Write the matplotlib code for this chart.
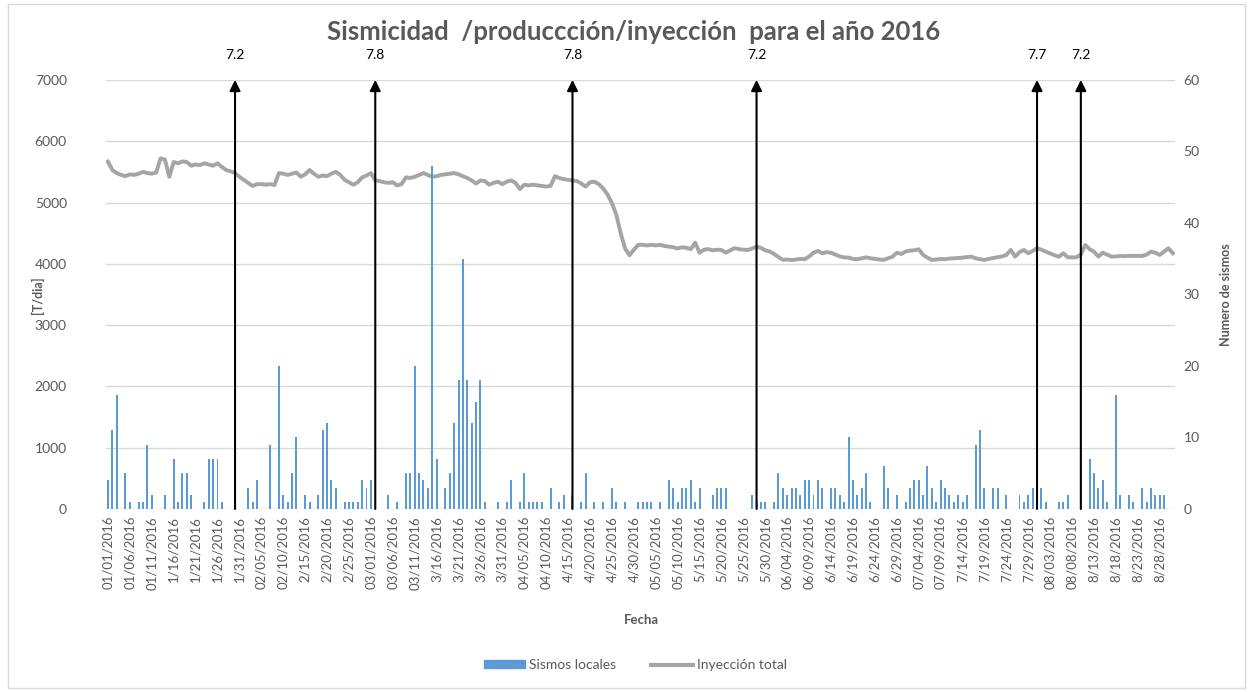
import numpy as np
import matplotlib.pyplot as plt
from matplotlib.lines import Line2D
from matplotlib.patches import Patch, Rectangle
import matplotlib.transforms as mtransforms

plt.rcParams['font.family'] = ['Lato', 'DejaVu Sans']

# daily local earthquake counts, 01/01/2016 - 08/31/2016
sismos = [
    4, 11, 16, 0, 5, 1, 0, 1, 1, 9,
    2, 0, 0, 2, 0, 7, 1, 5, 5, 2,
    0, 0, 1, 7, 7, 7, 1, 0, 0, 0,
    0, 0, 3, 1, 4, 0, 0, 9, 0, 20,
    2, 1, 5, 10, 0, 2, 1, 0, 2, 11,
    12, 4, 3, 0, 1, 1, 1, 1, 4, 3,
    4, 0, 0, 0, 2, 0, 1, 0, 5, 5,
    20, 5, 4, 3, 48, 7, 0, 3, 5, 12,
    18, 35, 18, 12, 15, 18, 1, 0, 0, 1,
    0, 1, 4, 0, 1, 5, 1, 1, 1, 1,
    0, 3, 0, 1, 2, 0, 2, 0, 1, 5,
    0, 1, 0, 1, 0, 3, 1, 0, 1, 0,
    0, 1, 1, 1, 1, 0, 1, 0, 4, 3,
    1, 3, 3, 4, 1, 3, 0, 0, 2, 3,
    3, 3, 0, 0, 0, 0, 0, 2, 1, 1,
    1, 0, 1, 5, 3, 2, 3, 3, 2, 4,
    4, 2, 4, 3, 0, 3, 3, 2, 1, 10,
    4, 2, 3, 5, 1, 0, 0, 6, 3, 0,
    2, 0, 1, 3, 4, 4, 2, 6, 3, 1,
    4, 3, 2, 1, 2, 1, 2, 0, 9, 11,
    3, 0, 3, 3, 0, 2, 0, 0, 2, 1,
    2, 3, 0, 3, 1, 0, 0, 1, 1, 2,
    0, 0, 0, 0, 7, 5, 3, 4, 1, 0,
    16, 2, 0, 2, 1, 0, 3, 1, 3, 2,
    2, 2, 0, 0,
]

# total injection [T/dia]
inyeccion = [
    5667, 5530, 5480, 5450, 5430, 5460, 5450, 5470, 5500, 5480,
    5470, 5490, 5720, 5700, 5420, 5660, 5640, 5670, 5660, 5600,
    5620, 5610, 5640, 5620, 5600, 5640, 5580, 5530, 5510, 5480,
    5420, 5370, 5320, 5270, 5300, 5300, 5290, 5300, 5285, 5480,
    5470, 5450, 5470, 5490, 5420, 5460, 5530, 5470, 5420, 5440,
    5430, 5470, 5500, 5450, 5370, 5330, 5290, 5330, 5410, 5440,
    5480, 5360, 5350, 5330, 5320, 5330, 5280, 5300, 5410, 5400,
    5420, 5450, 5480, 5450, 5420, 5430, 5450, 5460, 5470, 5480,
    5460, 5430, 5400, 5360, 5310, 5360, 5350, 5290, 5320, 5340,
    5300, 5340, 5360, 5320, 5220, 5290, 5280, 5290, 5280, 5270,
    5260, 5270, 5430, 5400, 5380, 5370, 5360, 5350, 5310, 5260,
    5330, 5340, 5300, 5230, 5130, 4990, 4800, 4500, 4250, 4140,
    4230, 4310, 4310, 4300, 4310, 4300, 4310, 4290, 4280, 4270,
    4250, 4270, 4260, 4240, 4345, 4180, 4230, 4240, 4220, 4230,
    4225, 4180, 4220, 4255, 4240, 4230, 4225, 4250, 4280, 4260,
    4220, 4200, 4160, 4110, 4065, 4070, 4060, 4070, 4080, 4075,
    4120, 4180, 4210, 4170, 4190, 4180, 4150, 4120, 4105, 4100,
    4080, 4075, 4090, 4105, 4090, 4080, 4070, 4065, 4090, 4115,
    4180, 4160, 4200, 4215, 4220, 4237, 4145, 4100, 4063, 4070,
    4080, 4074, 4085, 4090, 4095, 4100, 4110, 4117, 4090, 4075,
    4063, 4080, 4095, 4107, 4120, 4144, 4226, 4117, 4190, 4226,
    4172, 4210, 4254, 4230, 4198, 4170, 4140, 4117, 4172, 4107,
    4105, 4107, 4150, 4307, 4240, 4198, 4117, 4182, 4150, 4117,
    4120, 4128, 4125, 4130, 4128, 4130, 4128, 4150, 4198, 4180,
    4144, 4200, 4254, 4172,
]

fechas = [
    "01/01/2016", "01/06/2016", "01/11/2016", "1/16/2016", "1/21/2016",
    "1/26/2016", "1/31/2016", "02/05/2016", "02/10/2016", "2/15/2016",
    "2/20/2016", "2/25/2016", "03/01/2016", "03/06/2016", "03/11/2016",
    "3/16/2016", "3/21/2016", "3/26/2016", "3/31/2016", "04/05/2016",
    "04/10/2016", "4/15/2016", "4/20/2016", "4/25/2016", "4/30/2016",
    "05/05/2016", "05/10/2016", "5/15/2016", "5/20/2016", "5/25/2016",
    "5/30/2016", "06/04/2016", "06/09/2016", "6/14/2016", "6/19/2016",
    "6/24/2016", "6/29/2016", "07/04/2016", "07/09/2016", "7/14/2016",
    "7/19/2016", "7/24/2016", "7/29/2016", "08/03/2016", "08/08/2016",
    "8/13/2016", "8/18/2016", "8/23/2016", "8/28/2016",
]

# large earthquakes: day index in the series and magnitude
eventos_dia = [29, 61, 106, 148, 212, 222]
eventos_mag = ["7.2", "7.8", "7.8", "7.2", "7.7", "7.2"]

GRIS = '#595959'
n = len(sismos)
x = np.arange(n)

fig = plt.figure(figsize=(12.53, 6.92), dpi=100)
ax = fig.add_axes([0.0844, 0.2645, 0.8534, 0.62])
ax2 = ax.twinx()

ax.plot(x, inyeccion, color='#A5A5A5', lw=2.8, solid_joinstyle='round')
ax.set_ylim(0, 7000)
ax.set_yticks(range(0, 7001, 1000))
ax.grid(axis='y', color='#D9D9D9', lw=1)
ax.set_axisbelow(True)
ax.set_xlim(-0.5, n - 0.5)

ax2.bar(x, sismos, width=0.45, color='#5B9BD5')
ax2.set_ylim(0, 60)
ax2.set_yticks(range(0, 61, 10))

ax.set_xticks(range(0, 241, 5))
ax.set_xticklabels(fechas, rotation=90)

for a in (ax, ax2):
    for s in a.spines.values():
        s.set_visible(False)
ax.tick_params(axis='y', length=0, pad=28, labelsize=10, labelcolor=GRIS)
ax.tick_params(axis='x', length=0, pad=5, labelsize=9.5, labelcolor=GRIS)
ax2.tick_params(axis='y', length=0, pad=6, labelsize=10, labelcolor=GRIS)

# arrows marking the large earthquakes
trans = mtransforms.blended_transform_factory(ax2.transData, ax2.transAxes)
for d, m in zip(eventos_dia, eventos_mag):
    ax2.annotate('', xy=(d, 1.0), xycoords=trans, xytext=(d, 0.0), textcoords=trans,
                 arrowprops=dict(arrowstyle='-|>', color='black', lw=1.5,
                                 mutation_scale=16, shrinkA=0, shrinkB=0),
                 annotation_clip=False)
    ax2.text(d, 1.058, m, transform=trans, ha='center', va='center',
             fontsize=10, color='black')

fig.text(0.506, 1 - 32 / 692, 'Sismicidad  /produccción/inyección  para el año 2016',
         ha='center', va='center', fontsize=18.5, weight='bold', color=GRIS)
fig.text(37 / 1253, 1 - 295 / 692, '[T/dia]', rotation=90, ha='center', va='center',
         fontsize=9, weight='bold', color=GRIS)
fig.text(1226 / 1253, 1 - 295 / 692, 'Numero de sismos', rotation=90, ha='center',
         va='center', fontsize=9, weight='bold', color=GRIS)
fig.text(641 / 1253, 1 - 620 / 692, 'Fecha', ha='center', va='center',
         fontsize=9.5, weight='bold', color=GRIS)

handles = [Patch(color='#5B9BD5', label='Sismos locales'),
           Line2D([0], [0], color='#A5A5A5', lw=3, label='Inyección total')]
fig.legend(handles=handles, loc='center', bbox_to_anchor=(0.507, 0.039), ncol=2,
           frameon=False, fontsize=10, handlelength=3, handleheight=0.5,
           columnspacing=2.5, handletextpad=0.3, labelcolor=GRIS)

fig.patches.append(Rectangle((0.006, 0.006), 0.988, 0.988, transform=fig.transFigure,
                             fill=False, edgecolor='#D9D9D9', lw=1))

fig.savefig('out.png', dpi=100)
